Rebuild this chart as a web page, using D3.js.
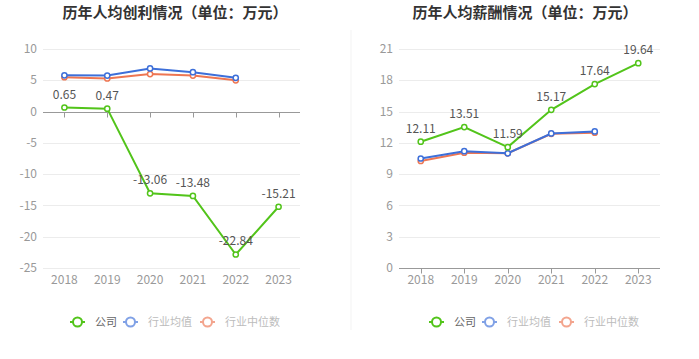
<!DOCTYPE html>
<html>
<head>
<meta charset="utf-8">
<script src="https://cdn.jsdelivr.net/npm/d3@7"></script>
<style>
  body { margin: 0; background: #fff; }
  svg { font-family: "Noto Sans CJK SC", "Noto Sans", sans-serif; display: block; }
</style>
</head>
<body>
<svg id="chart" width="699" height="359"></svg>
<script>
const years = ['2018', '2019', '2020', '2021', '2022', '2023'];

// 历年人均创利
const profitCompany = [0.65, 0.47, -13.06, -13.48, -22.84, -15.21];
const profitAvg = [5.8, 5.75, 6.9, 6.3, 5.4];
const profitMedian = [5.5, 5.3, 6.0, 5.75, 5.0];
const profitTicks = [10, 5, 0, -5, -10, -15, -20, -25];

// 历年人均薪酬
const salaryCompany = [12.11, 13.51, 11.59, 15.17, 17.64, 19.64];
const salaryAvg = [10.5, 11.2, 11.0, 12.9, 13.1];
const salaryMedian = [10.26, 11.05, 11.0, 12.87, 12.97];
const salaryTicks = [0, 3, 6, 9, 12, 15, 18, 21];

const legendNames = ['公司', '行业均值', '行业中位数'];
const colors = ['#52c41a', '#3d6fd9', '#ee7652'];

const svg = d3.select('#chart');

// faint divider between the two panels
svg.append('line')
  .attr('x1', 351).attr('x2', 351)
  .attr('y1', 30).attr('y2', 330)
  .attr('stroke', '#f3f3f3')
  .attr('stroke-width', 1);

function drawChart(opts) {
  const g = svg.append('g');
  const { left, right, top, bottom, centerX } = opts;

  g.append('text')
    .attr('x', centerX)
    .attr('y', 18)
    .attr('text-anchor', 'middle')
    .attr('font-size', 15)
    .attr('font-weight', 'bold')
    .attr('fill', '#333')
    .text(opts.title);

  const x = d3.scaleBand().domain(years).range([left, right]);
  const y = d3.scaleLinear().domain(opts.domain).range([bottom, top]);
  const cx = (d, i) => x(years[i]) + x.bandwidth() / 2;

  // gridlines
  g.append('g')
    .selectAll('line')
    .data(opts.ticks)
    .join('line')
    .attr('x1', left).attr('x2', right)
    .attr('y1', (d) => Math.round(y(d)) + 0.5)
    .attr('y2', (d) => Math.round(y(d)) + 0.5)
    .attr('stroke', '#ececec');

  // y labels
  g.append('g')
    .selectAll('text')
    .data(opts.ticks)
    .join('text')
    .attr('x', left - 6)
    .attr('y', (d) => y(d))
    .attr('dy', '0.35em')
    .attr('text-anchor', 'end')
    .attr('font-size', 12)
    .attr('fill', '#999')
    .text((d) => d);

  // axis line at zero
  const y0 = Math.round(y(0)) + 0.5;
  g.append('line')
    .attr('x1', left).attr('x2', right)
    .attr('y1', y0).attr('y2', y0)
    .attr('stroke', '#999');

  g.append('g')
    .selectAll('line')
    .data(years)
    .join('line')
    .attr('x1', (d) => Math.round(x(d) + x.bandwidth() / 2) + 0.5)
    .attr('x2', (d) => Math.round(x(d) + x.bandwidth() / 2) + 0.5)
    .attr('y1', y0).attr('y2', y0 + 5)
    .attr('stroke', '#999');

  // x labels at bottom
  g.append('g')
    .selectAll('text')
    .data(years)
    .join('text')
    .attr('x', (d) => x(d) + x.bandwidth() / 2)
    .attr('y', bottom + 16)
    .attr('text-anchor', 'middle')
    .attr('font-size', 12)
    .attr('fill', '#999')
    .text((d) => d);

  const line = d3.line().x(cx).y((d) => y(d));
  const series = [opts.median, opts.avg, opts.company];
  const seriesColors = [colors[2], colors[1], colors[0]];

  series.forEach((vals, k) => {
    g.append('path')
      .datum(vals)
      .attr('d', line)
      .attr('fill', 'none')
      .attr('stroke', seriesColors[k])
      .attr('stroke-width', 2);

    g.append('g')
      .selectAll('circle')
      .data(vals)
      .join('circle')
      .attr('cx', cx)
      .attr('cy', (d) => y(d))
      .attr('r', 2.6)
      .attr('fill', '#fff')
      .attr('stroke', seriesColors[k])
      .attr('stroke-width', 1.5);
  });

  // data labels for company
  g.append('g')
    .selectAll('text')
    .data(opts.company)
    .join('text')
    .attr('x', cx)
    .attr('y', (d) => y(d) - 9)
    .attr('text-anchor', 'middle')
    .attr('font-size', 12)
    .attr('fill', '#555')
    .text((d) => d.toFixed(2));

  // legend
  const legend = g.append('g').attr('transform', `translate(${opts.legendX}, 322)`);
  const offsets = [0, 53, 130];
  legendNames.forEach((name, i) => {
    const item = legend.append('g')
      .attr('transform', `translate(${offsets[i]}, 0)`)
      .attr('opacity', i === 0 ? 1 : 0.65);
    item.append('line')
      .attr('x1', 0).attr('x2', 15)
      .attr('stroke', colors[i]).attr('stroke-width', 2);
    item.append('circle')
      .attr('cx', 7.5).attr('r', 4.5)
      .attr('fill', '#fff')
      .attr('stroke', colors[i]).attr('stroke-width', 2);
    item.append('text')
      .attr('x', 25).attr('dy', '0.35em')
      .attr('font-size', 11)
      .attr('fill', i === 0 ? '#666' : '#999')
      .text(name);
  });
}

drawChart({
  title: '历年人均创利情况（单位：万元）',
  centerX: 175,
  left: 43, right: 300, top: 49, bottom: 268,
  domain: [-25, 10],
  ticks: profitTicks,
  company: profitCompany,
  avg: profitAvg,
  median: profitMedian,
  legendX: 70,
});

drawChart({
  title: '历年人均薪酬情况（单位：万元）',
  centerX: 525,
  left: 399, right: 660, top: 49, bottom: 268,
  domain: [0, 21],
  ticks: salaryTicks,
  company: salaryCompany,
  avg: salaryAvg,
  median: salaryMedian,
  legendX: 429,
});
</script>
</body>
</html>
